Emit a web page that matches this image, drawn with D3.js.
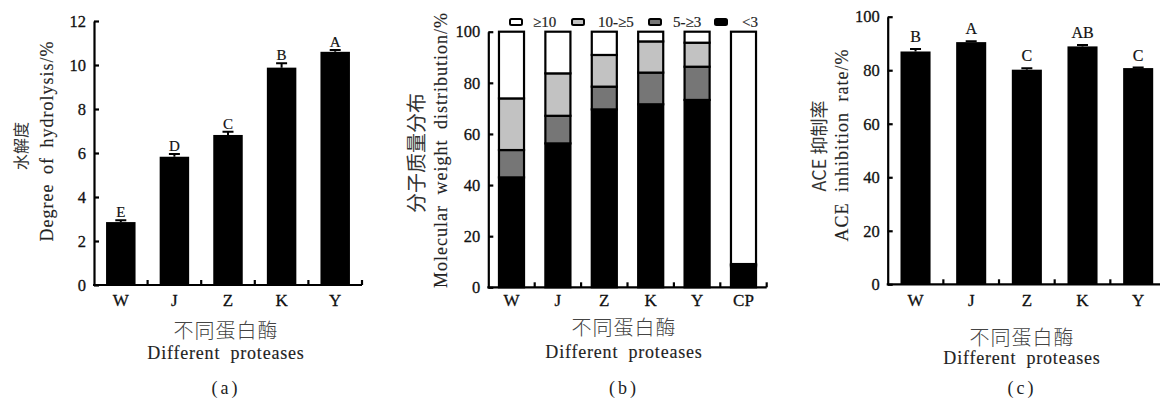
<!DOCTYPE html>
<html>
<head>
<meta charset="utf-8">
<script src="https://cdn.jsdelivr.net/npm/d3@7"></script>
<style>
  html, body { margin: 0; padding: 0; background: #fff; }
  svg { display: block; }
  svg text { paint-order: stroke; }
</style>
</head>
<body>
<svg id="chart" width="1160" height="400"></svg>
<script>
// ---------- Data ----------
const proteases = ["W", "J", "Z", "K", "Y"];
const hydrolysisValues = [2.86, 5.83, 6.82, 9.88, 10.6];
const hydrolysisErrors = [0.08, 0.13, 0.15, 0.2, 0.08];
const hydrolysisLetters = ["E", "D", "C", "B", "A"];
const hydrolysisTicks = [0, 2, 4, 6, 8, 10, 12];

const mwCategories = ["W", "J", "Z", "K", "Y", "CP"];
const mwLess3 = [43.0, 56.3, 69.6, 71.6, 73.3, 8.2];
const mw5to3 = [10.7, 10.8, 8.9, 12.4, 13.0, 0.5];
const mw10to5 = [20.2, 16.6, 12.4, 12.2, 9.4, 0.4];
const mwOver10 = [26.1, 16.3, 9.1, 3.8, 4.3, 90.9];
const mwSeriesNames = ["<3", "5-≥3", "10-≥5", "≥10"];
const mwLegendOrder = ["≥10", "10-≥5", "5-≥3", "<3"];
const percentTicks = [0, 20, 40, 60, 80, 100];

const aceValues = [87.0, 90.5, 80.2, 88.9, 80.8];
const aceErrors = [0.9, 0.3, 0.5, 0.5, 0.2];
const aceLetters = ["B", "A", "C", "AB", "C"];

const svg = d3.select("#chart");
const SERIF = '"Liberation Serif", "DejaVu Serif", serif';
const CJK = '"Noto Sans CJK SC", sans-serif';

function heavy(sel, color, w) {
  return sel.attr("stroke", color).attr("stroke-width", w == null ? 0.3 : w).attr("stroke-linejoin", "round");
}

function drawAxes(g, x, y, ticks, cats, labelPad, x0, x1) {
  const yAx = d3.axisLeft(y).tickValues(ticks).tickSize(-5).tickPadding(8).tickSizeOuter(0);
  const ya = g.append("g").attr("transform", `translate(${x0},0)`).call(yAx);
  ya.select(".domain").attr("stroke", "#000").attr("stroke-width", 2.2);
  ya.selectAll(".tick line").attr("stroke", "#000").attr("stroke-width", 2.2);
  heavy(ya.selectAll(".tick text").attr("font-family", SERIF).attr("font-size", 16.5).attr("fill", "#111"), "#111");

  const xAx = d3.axisBottom(x).tickSize(0).tickPadding(labelPad);
  const xa = g.append("g").attr("transform", `translate(0,${y(0)})`).call(xAx);
  xa.select(".domain").remove();
  heavy(xa.selectAll(".tick text").attr("font-family", SERIF).attr("font-size", 17).attr("fill", "#111"), "#111");
  xa.append("line").attr("x1", x0 - 1).attr("x2", x1).attr("y1", 0).attr("y2", 0)
    .attr("stroke", "#000").attr("stroke-width", 2.2);
  xa.selectAll(".btick").data(cats).enter().append("line")
    .attr("class", "btick")
    .attr("x1", d => x(d) + x.step()).attr("x2", d => x(d) + x.step())
    .attr("y1", 0).attr("y2", -5).attr("stroke", "#000").attr("stroke-width", 2.2);
}

function yTitle(g, cx, cy, text, font, size, fill, extra) {
  const t = g.append("text")
    .attr("transform", `translate(${cx},${cy}) rotate(-90)`)
    .attr("text-anchor", "middle").attr("dominant-baseline", "central")
    .attr("font-family", font).attr("font-size", size).attr("fill", fill)
    .text(text);
  if (extra) { t.attr("letter-spacing", extra.ls || 0).attr("word-spacing", extra.ws || 0); }
  if (font === SERIF) heavy(t, fill, 0.15);
  return t;
}

function xTitles(g, cx, yCn, yEn, yLab, label) {
  g.append("text").attr("x", cx).attr("y", yCn).attr("text-anchor", "middle")
    .attr("dominant-baseline", "central")
    .attr("font-family", CJK).attr("font-size", 20).attr("font-weight", 300).attr("fill", "#444")
    .attr("letter-spacing", 1).text("不同蛋白酶");
  heavy(g.append("text").attr("x", cx).attr("y", yEn).attr("text-anchor", "middle")
    .attr("font-family", SERIF).attr("font-size", 18).attr("fill", "#222")
    .attr("letter-spacing", 0.8).attr("word-spacing", 5).text("Different proteases"), "#222", 0.15);
  g.append("text").attr("x", cx).attr("y", yLab).attr("text-anchor", "middle")
    .attr("font-family", SERIF).attr("font-size", 18).attr("fill", "#222")
    .attr("letter-spacing", 3).text(label);
}

function barPanel(opts) {
  const g = svg.append("g");
  const x = d3.scaleBand().domain(opts.cats).range([opts.x0, opts.x1]).padding(0);
  const y = d3.scaleLinear().domain(opts.domain).range([opts.y0, opts.yTop]);
  const bw = x.bandwidth() * opts.barFrac;
  const data = opts.cats.map((c, i) => ({ c, v: opts.values[i], e: opts.errors[i], l: opts.letters[i] }));

  const capW = 11;
  g.selectAll(".err").data(data).enter().append("path")
    .attr("d", d => {
      const cx = x(d.c) + x.bandwidth() / 2;
      return `M${cx},${y(d.v)}V${y(d.v + d.e)}M${cx - capW / 2},${y(d.v + d.e)}H${cx + capW / 2}`;
    })
    .attr("stroke", "#000").attr("stroke-width", 2).attr("fill", "none");

  g.selectAll(".bar").data(data).enter().append("rect")
    .attr("x", d => x(d.c) + (x.bandwidth() - bw) / 2)
    .attr("width", bw)
    .attr("y", d => y(d.v))
    .attr("height", d => y(0) - y(d.v))
    .attr("fill", "#000");

  heavy(g.selectAll(".let").data(data).enter().append("text")
    .attr("x", d => x(d.c) + x.bandwidth() / 2)
    .attr("y", d => y(d.v + d.e) - opts.letterGap)
    .attr("text-anchor", "middle")
    .attr("font-family", SERIF).attr("font-size", opts.letterSize).attr("fill", "#111")
    .text(d => d.l), "#111", 0.2);

  drawAxes(g, x, y, opts.ticks, opts.cats, opts.labelPad, opts.x0, opts.x1);
  return g;
}

// ---------- Panel (a) ----------
const gA = barPanel({
  cats: proteases, values: hydrolysisValues, errors: hydrolysisErrors, letters: hydrolysisLetters,
  domain: [0, 12], ticks: hydrolysisTicks,
  x0: 94, x1: 362, y0: 285, yTop: 21, barFrac: 0.55, labelPad: 9,
  letterGap: 3, letterSize: 15
});
yTitle(gA, 20, 146, "水解度", CJK, 16, "#333");
yTitle(gA, 47, 141, "Degree of hydrolysis/%", SERIF, 18, "#222", { ls: 1, ws: 4 });
xTitles(gA, 226, 329, 359, 394, "(a)");

// ---------- Panel (b) ----------
(function () {
  const g = svg.append("g");
  const x0 = 488.3, x1 = 766.7, y0 = 287.3, yTop = 31.7;
  const x = d3.scaleBand().domain(mwCategories).range([x0, x1]).padding(0);
  const y = d3.scaleLinear().domain([0, 100]).range([y0, yTop]);
  const rows = mwCategories.map((c, i) => ({
    cat: c, "<3": mwLess3[i], "5-≥3": mw5to3[i], "10-≥5": mw10to5[i], "≥10": mwOver10[i]
  }));
  const stack = d3.stack().keys(mwSeriesNames)(rows);
  const color = d3.scaleOrdinal().domain(mwSeriesNames).range(["#000000", "#767676", "#c2c2c2", "#ffffff"]);
  const bw = x.bandwidth() * 0.54;

  const layers = g.selectAll(".layer").data(stack).enter().append("g")
    .attr("fill", d => color(d.key));
  layers.selectAll("rect").data(d => d).enter().append("rect")
    .attr("x", d => x(d.data.cat) + (x.bandwidth() - bw) / 2)
    .attr("width", bw)
    .attr("y", d => y(d[1]))
    .attr("height", d => y(d[0]) - y(d[1]))
    .attr("stroke", "#000").attr("stroke-width", 2.2);

  drawAxes(g, x, y, percentTicks, mwCategories, 6.7, x0, x1);

  const legX = [510, 572, 649, 715];
  const legTextX = [533, 598, 673, 742];
  const leg = g.selectAll(".leg").data(mwLegendOrder).enter().append("g");
  leg.append("rect")
    .attr("x", (d, i) => legX[i]).attr("y", 19)
    .attr("width", 12).attr("height", 6).attr("rx", 1.5)
    .attr("fill", d => color(d)).attr("stroke", "#000").attr("stroke-width", 2);
  heavy(leg.append("text")
    .attr("x", (d, i) => legTextX[i]).attr("y", 27)
    .attr("font-family", SERIF).attr("font-size", 15).attr("fill", "#222")
    .text(d => d), "#222", 0.2);

  yTitle(g, 415, 153, "分子质量分布", CJK, 20, "#333");
  yTitle(g, 441, 150, "Molecular weight distribution/%", SERIF, 18, "#222", { ls: 1, ws: 5 });
  xTitles(g, 624, 326, 358, 394, "(b)");
})();

// ---------- Panel (c) ----------
const gC = barPanel({
  cats: proteases, values: aceValues, errors: aceErrors, letters: aceLetters,
  domain: [0, 100], ticks: percentTicks,
  x0: 887.7, x1: 1166, y0: 284.3, yTop: 16.7, barFrac: 0.54, labelPad: 9.7,
  letterGap: 7, letterSize: 16
});
yTitle(gC, 818, 146, "ACE 抑制率", CJK, 18, "#333");
yTitle(gC, 842, 145, "ACE inhibition rate/%", SERIF, 18, "#222", { ls: 1, ws: 5 });
xTitles(gC, 1022, 336, 364, 394, "(c)");
</script>
</body>
</html>
